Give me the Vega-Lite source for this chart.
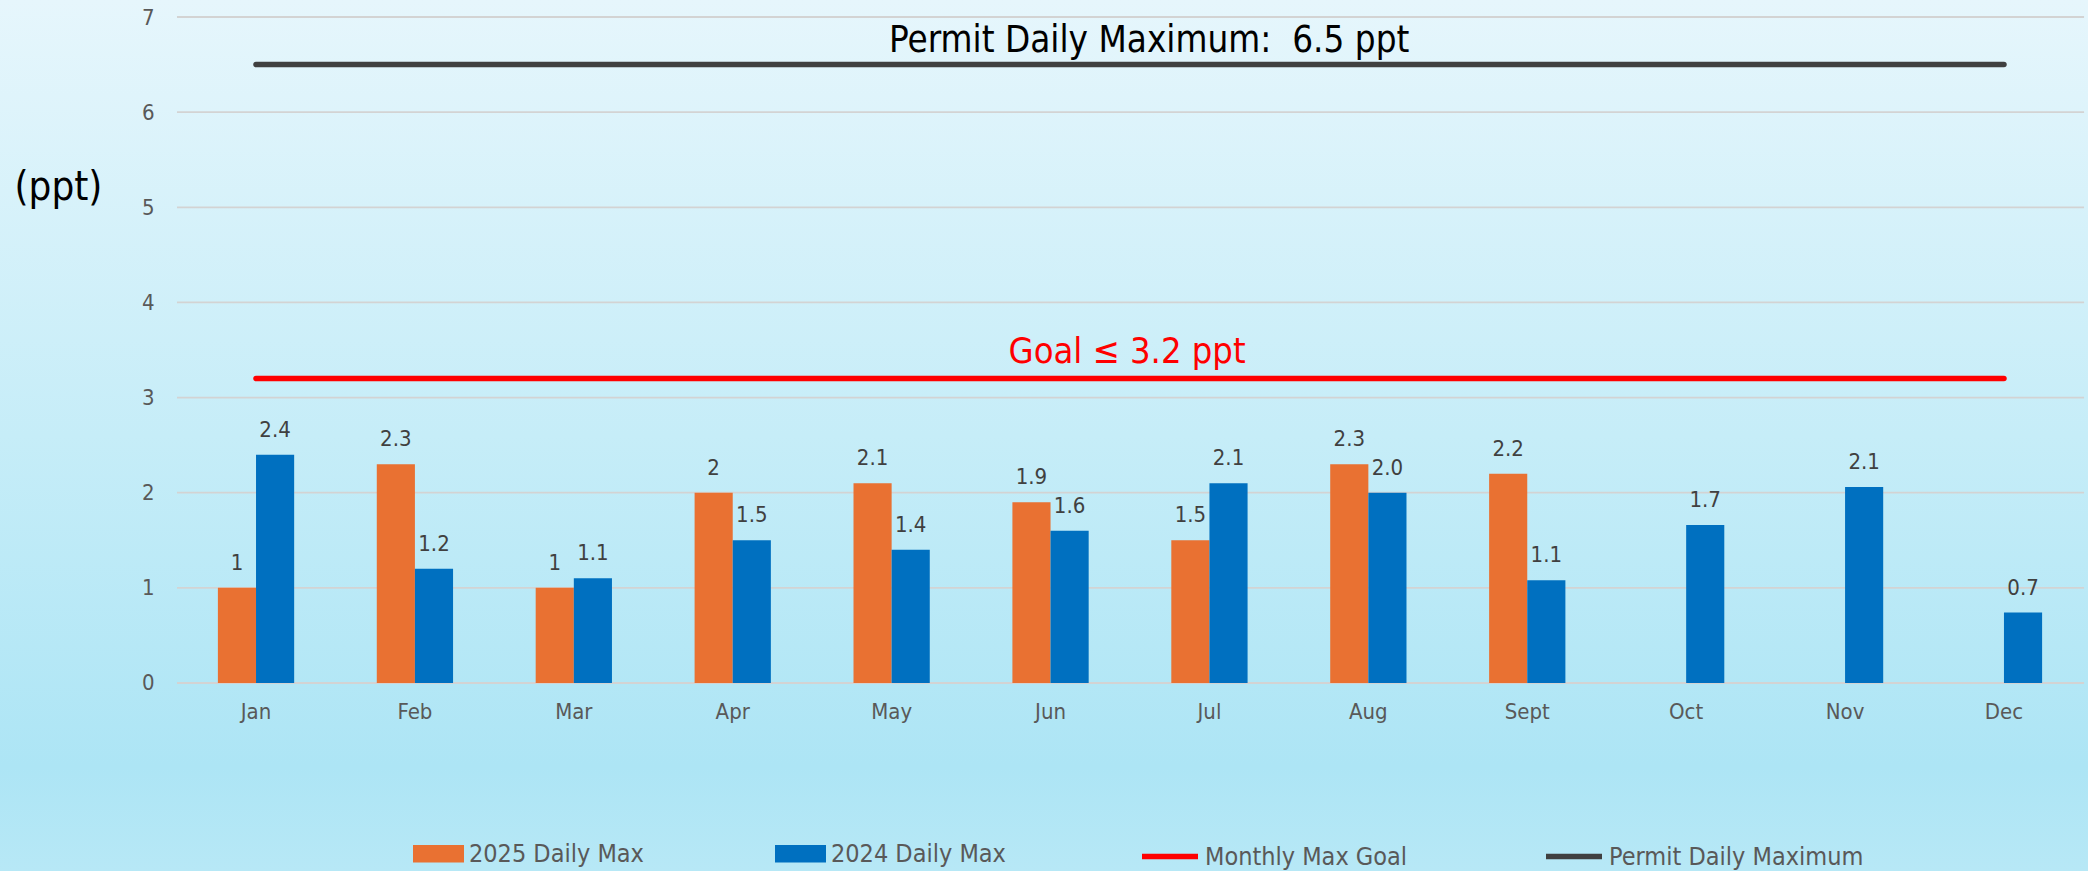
{
  "$schema": "https://vega.github.io/schema/vega-lite/v6.json",
  "width": 2088,
  "height": 871,
  "autosize": {"type": "none"},
  "padding": 0,
  "background": "#C6EDF8",
  "datasets": {
    "bars": [
      {"month": "Jan", "series": "2025 Daily Max", "value": 1.0, "label": "1"},
      {"month": "Feb", "series": "2025 Daily Max", "value": 2.3, "label": "2.3"},
      {"month": "Mar", "series": "2025 Daily Max", "value": 1.0, "label": "1"},
      {"month": "Apr", "series": "2025 Daily Max", "value": 2.0, "label": "2"},
      {"month": "May", "series": "2025 Daily Max", "value": 2.1, "label": "2.1"},
      {"month": "Jun", "series": "2025 Daily Max", "value": 1.9, "label": "1.9"},
      {"month": "Jul", "series": "2025 Daily Max", "value": 1.5, "label": "1.5"},
      {"month": "Aug", "series": "2025 Daily Max", "value": 2.3, "label": "2.3"},
      {"month": "Sept", "series": "2025 Daily Max", "value": 2.2, "label": "2.2"},
      {"month": "Jan", "series": "2024 Daily Max", "value": 2.4, "label": "2.4"},
      {"month": "Feb", "series": "2024 Daily Max", "value": 1.2, "label": "1.2"},
      {"month": "Mar", "series": "2024 Daily Max", "value": 1.1, "label": "1.1"},
      {"month": "Apr", "series": "2024 Daily Max", "value": 1.5, "label": "1.5"},
      {"month": "May", "series": "2024 Daily Max", "value": 1.4, "label": "1.4"},
      {"month": "Jun", "series": "2024 Daily Max", "value": 1.6, "label": "1.6"},
      {"month": "Jul", "series": "2024 Daily Max", "value": 2.1, "label": "2.1"},
      {"month": "Aug", "series": "2024 Daily Max", "value": 2.0, "label": "2.0"},
      {"month": "Sept", "series": "2024 Daily Max", "value": 1.08, "label": "1.1"},
      {"month": "Oct", "series": "2024 Daily Max", "value": 1.66, "label": "1.7"},
      {"month": "Nov", "series": "2024 Daily Max", "value": 2.06, "label": "2.1"},
      {"month": "Dec", "series": "2024 Daily Max", "value": 0.74, "label": "0.7"}
    ],
    "limits": [
      {"series": "Monthly Max Goal", "value": 3.2, "start": "Jan", "end": "Dec", "label": "Goal ≤ 3.2 ppt"},
      {"series": "Permit Daily Maximum", "value": 6.5, "start": "Jan", "end": "Dec", "label": "Permit Daily Maximum:\u00a0 6.5 ppt"}
    ],
    "grid": [{"v": 0}, {"v": 1}, {"v": 2}, {"v": 3}, {"v": 4}, {"v": 5}, {"v": 6}, {"v": 7}]
  },
  "config": {
    "font": "Liberation Sans Narrow, DejaVu Sans Condensed, Roboto, sans-serif",
    "view": {
      "stroke": null,
      "fill": {
        "gradient": "linear", "x1": 0, "y1": 0, "x2": 0, "y2": 1,
        "stops": [
          {"offset": 0, "color": "#E6F6FC"},
          {"offset": 0.5, "color": "#C6EDF8"},
          {"offset": 0.88, "color": "#ADE5F5"},
          {"offset": 1, "color": "#B7E8F6"}
        ]
      }
    }
  },
  "encoding": {
    "x": {
      "field": "month",
      "type": "nominal",
      "scale": {
        "domain": ["Jan", "Feb", "Mar", "Apr", "May", "Jun", "Jul", "Aug", "Sept", "Oct", "Nov", "Dec"],
        "paddingInner": 0.52,
        "paddingOuter": 0.83,
        "align": 0.826,
        "round": false
      },
      "axis": {
        "orient": "bottom",
        "offset": -188,
        "domain": false,
        "ticks": false,
        "tickSize": 0,
        "grid": false,
        "labelPadding": 18,
        "labelFontSize": 22,
        "labelColor": "#595959",
        "labelAngle": 0,
        "title": null
      }
    },
    "y": {
      "field": "value",
      "type": "quantitative",
      "scale": {"domain": [-1.976, 7.1787], "nice": false, "zero": false},
      "axis": {
        "values": [0, 1, 2, 3, 4, 5, 6, 7],
        "offset": -160,
        "domain": false,
        "ticks": false,
        "tickSize": 0,
        "grid": false,
        "labelPadding": 6,
        "labelFontSize": 22,
        "labelColor": "#595959",
        "title": "(ppt)",
        "titleAngle": 0,
        "titleX": -146,
        "titleY": 187,
        "titleAlign": "left",
        "titleBaseline": "middle",
        "titleFontSize": 40,
        "titleFontWeight": "normal",
        "titleColor": "#000000"
      }
    }
  },
  "layer": [
    {
      "data": {"name": "grid"},
      "mark": {"type": "rule", "color": "#D3D3D3", "strokeWidth": 1.8},
      "encoding": {
        "x": {"datum": "Jan", "type": "nominal", "bandPosition": -0.536},
        "x2": {"datum": "Dec", "bandPosition": 1.55},
        "y": {"field": "v", "type": "quantitative"}
      }
    },
    {
      "data": {"name": "bars"},
      "mark": {"type": "bar"},
      "encoding": {
        "xOffset": {
          "field": "series",
          "type": "nominal",
          "scale": {"domain": ["2025 Daily Max", "2024 Daily Max"], "paddingInner": 0, "paddingOuter": 0}
        },
        "fill": {
          "field": "series",
          "type": "nominal",
          "scale": {"domain": ["2025 Daily Max", "2024 Daily Max"], "range": ["#E97132", "#0070C0"]},
          "legend": {
            "orient": "none",
            "legendX": 413,
            "legendY": 828,
            "direction": "horizontal",
            "title": null,
            "padding": 0,
            "symbolType": "M-1,-0.34H1V0.34H-1Z",
            "symbolSize": 2601,
            "symbolStrokeWidth": 0,
            "labelFontSize": 25,
            "labelBaseline": "middle",
            "labelColor": "#595959",
            "labelOffset": 5,
            "labelLimit": 400,
            "columnPadding": 131
          }
        }
      }
    },
    {
      "data": {"name": "bars"},
      "mark": {"type": "text", "baseline": "alphabetic", "dy": -18, "fontSize": 22, "fill": "#404040"},
      "encoding": {
        "xOffset": {"field": "series", "type": "nominal"},
        "text": {"field": "label", "type": "nominal"}
      }
    },
    {
      "data": {"name": "limits"},
      "mark": {"type": "rule", "strokeWidth": 5.5, "strokeCap": "round"},
      "encoding": {
        "x": {"field": "start", "type": "nominal", "bandPosition": 0.5},
        "x2": {"field": "end", "bandPosition": 0.5},
        "stroke": {
          "field": "series",
          "type": "nominal",
          "scale": {"domain": ["Monthly Max Goal", "Permit Daily Maximum"], "range": ["#FF0000", "#404040"]},
          "legend": {
            "orient": "none",
            "legendX": 1139,
            "legendY": 825.5,
            "direction": "horizontal",
            "title": null,
            "padding": 0,
            "symbolType": "M-1,0H1",
            "symbolSize": 3136,
            "symbolStrokeWidth": 5.5,
            "labelFontSize": 25,
            "labelBaseline": "middle",
            "labelColor": "#595959",
            "labelOffset": 4,
            "labelLimit": 400,
            "columnPadding": 127
          }
        }
      }
    },
    {
      "data": {"name": "limits"},
      "transform": [{"filter": "datum.series === 'Permit Daily Maximum'"}],
      "mark": {"type": "text", "baseline": "alphabetic", "align": "center", "dy": -12.6, "fontSize": 36.5, "fill": "#000000"},
      "encoding": {
        "x": {"datum": "Jul", "type": "nominal", "bandPosition": -0.29},
        "text": {"field": "label", "type": "nominal"}
      }
    },
    {
      "data": {"name": "limits"},
      "transform": [{"filter": "datum.series === 'Monthly Max Goal'"}],
      "mark": {"type": "text", "baseline": "alphabetic", "align": "center", "dy": -16, "fontSize": 36, "fill": "#FF0000"},
      "encoding": {
        "x": {"datum": "Jul", "type": "nominal", "bandPosition": -0.58},
        "text": {"field": "label", "type": "nominal"}
      }
    }
  ]
}
